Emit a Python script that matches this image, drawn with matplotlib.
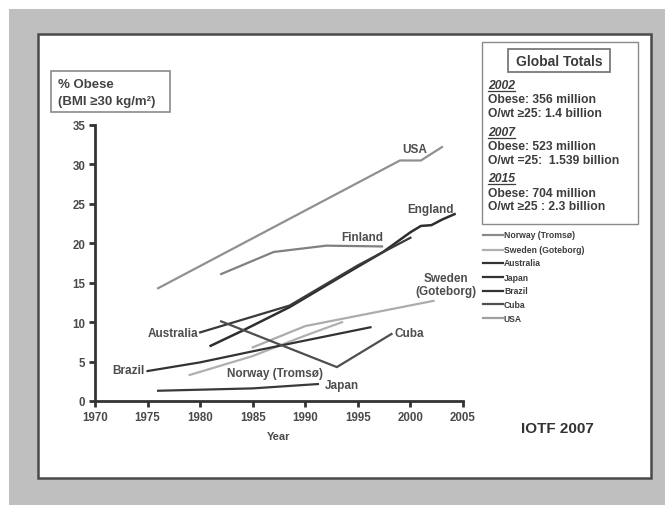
import matplotlib
matplotlib.use("Agg")
import matplotlib.pyplot as plt
from matplotlib.patches import Rectangle
from matplotlib.lines import Line2D

plt.rcParams['font.family'] = ['Liberation Sans', 'DejaVu Sans']
plt.rcParams['font.weight'] = 'bold'

W, H = 665, 506

# series (year, % obese)
usa_years = [1976, 1999, 2001, 2003]
usa_vals = [14.3, 30.5, 30.5, 32.2]
finland_years = [1982, 1987, 1992, 1997.3]
finland_vals = [16.1, 18.9, 19.7, 19.6]
england_years = [1981, 1984, 1988.5, 1993.3, 1997.4, 2000, 2001, 2002, 2003, 2004.2]
england_vals = [7.0, 8.9, 11.9, 15.7, 18.9, 21.4, 22.2, 22.3, 23.0, 23.7]
australia_years = [1980, 1985, 1988.5, 1995, 2000]
australia_vals = [8.7, 10.7, 12.1, 17.2, 20.7]
sweden_years = [1985, 1990, 2002.2]
sweden_vals = [6.8, 9.5, 12.7]
norway_years = [1979, 1985, 1990, 1993.5]
norway_vals = [3.3, 5.7, 8.3, 10.0]
brazil_years = [1975, 1980, 1985, 1989, 1996.2]
brazil_vals = [3.8, 4.9, 6.3, 7.4, 9.35]
cuba_years = [1982, 1993, 1998.2]
cuba_vals = [10.1, 4.3, 8.5]
japan_years = [1976, 1985, 1991.2]
japan_vals = [1.3, 1.6, 2.15]

legend_names = ['Norway (Tromsø)', 'Sweden (Goteborg)', 'Australia', 'Japan',
                'Brazil', 'Cuba', 'USA']
legend_colors = ['#8a8a8a', '#b0b0b0', '#333333', '#333333', '#333333',
                 '#505050', '#a0a0a0']

totals = [
    ('2002', 'Obese: 356 million', 'O/wt ≥25: 1.4 billion'),
    ('2007', 'Obese: 523 million', 'O/wt =25:  1.539 billion'),
    ('2015', 'Obese: 704 million', 'O/wt ≥25 : 2.3 billion'),
]


def fx(x):
    return x / W


def fy(y):
    return 1 - y / H


fig = plt.figure(figsize=(W / 100, H / 100), dpi=100)
fig.patch.set_facecolor('white')

# grey scan background and white slide
fig.patches.append(Rectangle((fx(9), 0), 1 - fx(9), fy(10), transform=fig.transFigure,
                             facecolor='#bfbfbf', edgecolor='none', zorder=-10))
fig.patches.append(Rectangle((fx(38), fy(479)), fx(651) - fx(38), fy(35) - fy(479),
                             transform=fig.transFigure, facecolor='white',
                             edgecolor='#4a4a4a', linewidth=1.8, zorder=-9))

ax = fig.add_axes([fx(95), fy(402), fx(463) - fx(95), fy(126) - fy(402)])
ax.set_facecolor('none')

ax.plot(usa_years, usa_vals, color='#909090', lw=1.6)
ax.plot(finland_years, finland_vals, color='#808080', lw=1.6)
ax.plot(england_years, england_vals, color='#2e2e2e', lw=1.8)
ax.plot(australia_years, australia_vals, color='#3a3a3a', lw=1.6)
ax.plot(sweden_years, sweden_vals, color='#acacac', lw=1.6)
ax.plot(norway_years, norway_vals, color='#b0b0b0', lw=1.6)
ax.plot(brazil_years, brazil_vals, color='#333333', lw=1.6)
ax.plot(cuba_years, cuba_vals, color='#4e4e4e', lw=1.6)
ax.plot(japan_years, japan_vals, color='#3a3a3a', lw=1.6)

ax.set_xlim(1970, 2005)
ax.set_ylim(0, 35)
ax.set_xticks(range(1970, 2006, 5))
ax.set_yticks(range(0, 36, 5))
for s in ['top', 'right']:
    ax.spines[s].set_visible(False)
for s in ['left', 'bottom']:
    ax.spines[s].set_linewidth(2.0)
    ax.spines[s].set_color('#333333')
ax.tick_params(width=2.0, length=4, color='#333333', labelsize=8.3,
               labelcolor='#4a4a4a', pad=3)
ax.set_xlabel('Year', fontsize=8, color='#4a4a4a', fontweight='bold', labelpad=6)

lab = dict(fontsize=8.5, color='#4d4d4d', fontweight='bold', va='center')
ax.text(2000.4, 31.9, 'USA', ha='center', **lab)
ax.text(2001.9, 24.4, 'England', ha='center', **lab)
ax.text(1995.4, 20.75, 'Finland', ha='center', **lab)
ax.text(2003.35, 14.8, 'Sweden\n(Goteborg)', ha='center', linespacing=1.15, **lab)
ax.text(1979.8, 8.6, 'Australia', ha='right', **lab)
ax.text(1998.5, 8.6, 'Cuba', ha='left', **lab)
ax.text(1974.7, 3.93, 'Brazil', ha='right', **lab)
ax.text(1987.1, 3.5, 'Norway (Tromsø)', ha='center', **lab)
ax.text(1991.9, 2.07, 'Japan', ha='left', **lab)

# y label box
fig.patches.append(Rectangle((fx(51), fy(113)), fx(170) - fx(51), fy(72) - fy(113),
                             transform=fig.transFigure, facecolor='white',
                             edgecolor='#8a8a8a', linewidth=1.2))
fig.text(fx(58), fy(85), '% Obese', fontsize=9.5, color='#444444', va='center')
fig.text(fx(58), fy(101.5), '(BMI ≥30 kg/m²)', fontsize=9.5, color='#444444', va='center')

# global totals box
fig.patches.append(Rectangle((fx(482), fy(225)), fx(638) - fx(482), fy(43) - fy(225),
                             transform=fig.transFigure, facecolor='white',
                             edgecolor='#8a8a8a', linewidth=1.0))
fig.patches.append(Rectangle((fx(508), fy(73)), fx(610) - fx(508), fy(50) - fy(73),
                             transform=fig.transFigure, facecolor='white',
                             edgecolor='#7a7a7a', linewidth=1.3))
fig.text(fx(559), fy(62), 'Global Totals', fontsize=10, color='#3c3c3c',
         ha='center', va='center')

fig.canvas.draw()
renderer = fig.canvas.get_renderer()
row_y = [86, 132.7, 179.3]
for (yr, l1, l2), y0 in zip(totals, row_y):
    t = fig.text(fx(488), fy(y0), yr, fontsize=8.7, color='#3c3c3c', style='italic',
                 va='center')
    bb = t.get_window_extent(renderer)
    fig.lines.append(Line2D([bb.x0 / W, bb.x1 / W], [fy(y0 + 6), fy(y0 + 6)],
                            transform=fig.transFigure, color='#3c3c3c', lw=0.9))
    fig.text(fx(488), fy(y0 + 14.5), l1, fontsize=8.7, color='#3c3c3c', va='center')
    fig.text(fx(488), fy(y0 + 28), l2, fontsize=8.7, color='#3c3c3c', va='center')

# legend
leg_y = [236, 250.7, 264, 278.3, 291.7, 305.3, 319]
for name, col, y0 in zip(legend_names, legend_colors, leg_y):
    fig.lines.append(Line2D([fx(483), fx(503)], [fy(y0), fy(y0)],
                            transform=fig.transFigure, color=col, lw=1.6))
    fig.text(fx(504), fy(y0), name, fontsize=6.2, color='#3c3c3c', va='center')

fig.text(fx(557), fy(429), 'IOTF 2007', fontsize=11, color='#333333',
         ha='center', va='center')

fig.savefig('out.png', dpi=100)
